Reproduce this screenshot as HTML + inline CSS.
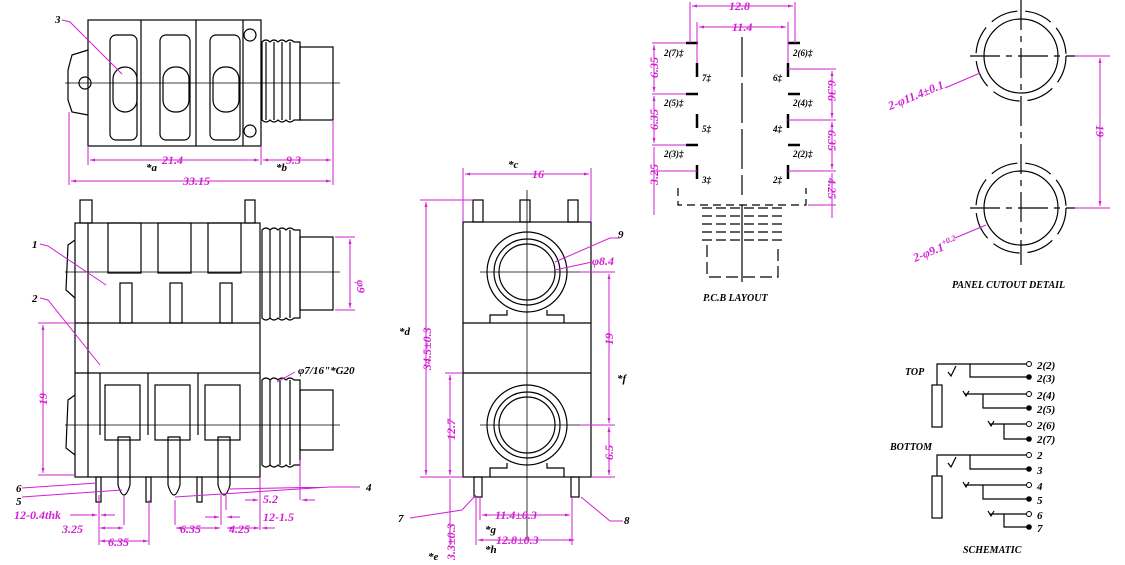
<!DOCTYPE html>
<html><head><meta charset="utf-8"><style>
html,body{margin:0;padding:0;background:#fff;}
svg{display:block;}
text{font-family:"Liberation Serif",serif;font-style:italic;font-weight:bold;}
.m{fill:#d21fd2;font-size:12px;}
.k{fill:#000;font-size:11px;}
</style></head><body>
<svg width="1125" height="565" viewBox="0 0 1125 565" xmlns="http://www.w3.org/2000/svg">
<defs>
<marker id="a" viewBox="0 0 10 10" refX="10" refY="5" markerWidth="6" markerHeight="5" orient="auto-start-reverse"><path d="M0,2L10,5L0,8z" fill="#d21fd2"/></marker>
</defs>
<g fill="none" stroke="#000" stroke-width="1.2">
<rect x="88" y="20" width="173" height="126"/>
<line x1="141" y1="20" x2="141" y2="146"/><line x1="196" y1="20" x2="196" y2="146"/><line x1="243" y1="20" x2="243" y2="146"/>
<path d="M88,50 L72,55 L68,70 L68,100 L72,112 L88,115"/>
<circle cx="85" cy="83" r="6"/>
<rect x="110" y="35" width="27" height="105" rx="6"/><rect x="160" y="35" width="30" height="105" rx="6"/><rect x="210" y="35" width="30" height="105" rx="6"/>
<rect x="113" y="67" width="24" height="45" rx="12"/><rect x="163" y="67" width="26" height="45" rx="12"/><rect x="213" y="67" width="26" height="45" rx="12"/>
<circle cx="250" cy="35" r="6"/><circle cx="250" cy="131" r="6"/>
<path d="M262,42 q4,-4 8,0 q4,-4 8,0 q4,-4 8,0 q4,-4 8,0 L300,42 L300,120 L294,120 q-4,4 -8,0 q-4,4 -8,0 q-4,4 -8,0 q-4,4 -8,0z"/>
<line x1="266" y1="42" x2="266" y2="120"/><line x1="274" y1="42" x2="274" y2="120"/><line x1="282" y1="42" x2="282" y2="120"/><line x1="290" y1="42" x2="290" y2="120"/>
<rect x="300" y="47" width="33" height="73"/>
<line x1="65" y1="83" x2="340" y2="83" stroke-width="0.8"/>
<rect x="75" y="223" width="185" height="254"/>
<line x1="88" y1="223" x2="88" y2="477"/>
<line x1="75" y1="323" x2="260" y2="323"/><line x1="75" y1="373" x2="260" y2="373"/>
<rect x="80" y="200" width="12" height="23"/><rect x="245" y="200" width="10" height="23"/>
<rect x="108" y="223" width="33" height="50"/><rect x="158" y="223" width="33" height="50"/><rect x="208" y="223" width="33" height="50"/>
<rect x="120" y="283" width="12" height="40"/><rect x="170" y="283" width="12" height="40"/><rect x="220" y="283" width="12" height="40"/>
<path d="M75,240 L68,245 L66,290 L75,298"/><path d="M75,395 L68,400 L66,448 L75,455"/>
<rect x="105" y="385" width="35" height="55"/><rect x="155" y="385" width="35" height="55"/><rect x="205" y="385" width="35" height="55"/>
<line x1="100" y1="373" x2="100" y2="435"/><line x1="148" y1="373" x2="148" y2="435"/><line x1="198" y1="373" x2="198" y2="435"/>
<path d="M118,437 L118,485 Q124,505 130,485 L130,437z"/><path d="M168,437 L168,485 Q174,505 180,485 L180,437z"/><path d="M218,437 L218,485 Q224,505 230,485 L230,437z"/>
<rect x="96" y="477" width="5" height="25"/><rect x="146" y="477" width="5" height="25"/><rect x="197" y="477" width="5" height="25"/>
<path d="M262,230 q4,-4 8,0 q4,-4 8,0 q4,-4 8,0 q4,-4 8,0 L300,230 L300,318 L294,318 q-4,4 -8,0 q-4,4 -8,0 q-4,4 -8,0 q-4,4 -8,0z"/>
<line x1="270" y1="230" x2="270" y2="318"/><line x1="280" y1="230" x2="280" y2="318"/><line x1="290" y1="230" x2="290" y2="318"/>
<rect x="300" y="237" width="33" height="73"/>
<path d="M262,380 q4,-4 8,0 q4,-4 8,0 q4,-4 8,0 q4,-4 8,0 L300,380 L300,465 L294,465 q-4,4 -8,0 q-4,4 -8,0 q-4,4 -8,0 q-4,4 -8,0z"/>
<line x1="270" y1="380" x2="270" y2="465"/><line x1="280" y1="380" x2="280" y2="465"/><line x1="290" y1="380" x2="290" y2="465"/>
<rect x="300" y="390" width="33" height="60"/>
<line x1="65" y1="272" x2="340" y2="272" stroke-width="0.8"/><line x1="65" y1="425" x2="340" y2="425" stroke-width="0.8"/>
<rect x="463" y="222" width="128" height="255"/>
<line x1="463" y1="323" x2="591" y2="323"/><line x1="463" y1="373" x2="591" y2="373"/>
<rect x="473" y="200" width="10" height="22"/><rect x="520" y="200" width="10" height="22"/><rect x="568" y="200" width="10" height="22"/>
<circle cx="527" cy="272" r="40"/><circle cx="527" cy="272" r="33"/><circle cx="527" cy="272" r="28"/>
<circle cx="527" cy="425" r="40"/><circle cx="527" cy="425" r="33"/><circle cx="527" cy="425" r="28"/>
<path d="M490,323 L490,315 L507,315 L507,310 M547,310 L547,315 L564,315 L564,323"/>
<path d="M490,477 L490,468 L507,468 L507,463 M547,463 L547,468 L564,468 L564,477"/>
<line x1="527" y1="190" x2="527" y2="540" stroke-width="0.8"/>
<line x1="480" y1="272" x2="580" y2="272" stroke-width="0.8"/><line x1="480" y1="425" x2="580" y2="425" stroke-width="0.8"/>
<rect x="474" y="477" width="8" height="20"/><rect x="571" y="477" width="8" height="20"/>
<line x1="742" y1="37" x2="742" y2="195" stroke-dasharray="40,6"/>
<g stroke-width="2.5">
<line x1="686" y1="43" x2="698" y2="43"/><line x1="788" y1="43" x2="800" y2="43"/>
<line x1="697" y1="63" x2="697" y2="77"/><line x1="788" y1="63" x2="788" y2="77"/>
<line x1="686" y1="94" x2="698" y2="94"/><line x1="788" y1="94" x2="800" y2="94"/>
<line x1="697" y1="114" x2="697" y2="128"/><line x1="788" y1="114" x2="788" y2="128"/>
<line x1="686" y1="145" x2="698" y2="145"/><line x1="788" y1="145" x2="800" y2="145"/>
<line x1="697" y1="165" x2="697" y2="179"/><line x1="788" y1="165" x2="788" y2="179"/>
</g>
<path d="M678,188 L678,205 L806,205 L806,188" stroke-dasharray="8,5"/>
<path d="M702,208 L782,208 M702,216 L782,216 M702,224 L782,224 M702,232 L782,232 M702,240 L782,240" stroke-dasharray="10,4"/>
<path d="M707,245 L707,277 L778,277 L778,245" stroke-dasharray="12,5"/>
<line x1="742" y1="205" x2="742" y2="282"/>
<circle cx="1021" cy="56" r="37"/><circle cx="1021" cy="56" r="45" stroke-dasharray="28,8"/>
<circle cx="1021" cy="208" r="37"/><circle cx="1021" cy="208" r="45" stroke-dasharray="28,8"/>
<line x1="1021" y1="0" x2="1021" y2="265" stroke-dasharray="30,6,6,6"/>
<line x1="970" y1="56" x2="1075" y2="56" stroke-dasharray="30,6,6,6"/><line x1="970" y1="208" x2="1075" y2="208" stroke-dasharray="30,6,6,6"/>
<rect x="932" y="385" width="10" height="42"/><rect x="932" y="476" width="10" height="42"/>
<path d="M937,385 L937,364 L1026,364 M970,364 L970,377 L1029,377 M948,372 l3,4 l5,-10"/>
<path d="M965,394 L1026,394 M983,394 L983,408 L1029,408 M963,391 l3,5 l3,-5"/>
<path d="M990,424 L1026,424 M1004,424 L1004,439 L1029,439 M988,421 l3,5 l3,-5"/>
<path d="M937,476 L937,455 L1026,455 M970,455 L970,469 L1029,469 M948,463 l3,4 l5,-10"/>
<path d="M965,485 L1026,485 M983,485 L983,499 L1029,499 M963,482 l3,5 l3,-5"/>
<path d="M990,514 L1026,514 M1004,514 L1004,527 L1029,527 M988,511 l3,5 l3,-5"/>
</g>
<g fill="#fff" stroke="#000"><circle cx="1029" cy="364" r="2.5"/><circle cx="1029" cy="394" r="2.5"/><circle cx="1029" cy="424" r="2.5"/><circle cx="1029" cy="455" r="2.5"/><circle cx="1029" cy="485" r="2.5"/><circle cx="1029" cy="514" r="2.5"/></g>
<g fill="#000"><circle cx="1029" cy="377" r="2.8"/><circle cx="1029" cy="408" r="2.8"/><circle cx="1029" cy="439" r="2.8"/><circle cx="1029" cy="469" r="2.8"/><circle cx="1029" cy="499" r="2.8"/><circle cx="1029" cy="527" r="2.8"/></g>
<g stroke="#d21fd2" stroke-width="1" fill="none">
<line x1="88" y1="146" x2="88" y2="165"/><line x1="261" y1="146" x2="261" y2="165"/><line x1="333" y1="120" x2="333" y2="185"/><line x1="69" y1="112" x2="69" y2="185"/>
<line x1="90" y1="160" x2="259" y2="160" marker-start="url(#a)" marker-end="url(#a)"/>
<line x1="263" y1="160" x2="331" y2="160" marker-start="url(#a)" marker-end="url(#a)"/>
<line x1="71" y1="181" x2="331" y2="181" marker-start="url(#a)" marker-end="url(#a)"/>
<path d="M62,20 L70,22 L122,74"/>
<line x1="335" y1="237" x2="355" y2="237"/><line x1="335" y1="310" x2="355" y2="310"/>
<line x1="350" y1="239" x2="350" y2="308" marker-start="url(#a)" marker-end="url(#a)"/>
<path d="M40,244 L48,246 L106,285"/><path d="M40,298 L48,300 L100,365"/>
<line x1="38" y1="323" x2="75" y2="323"/><line x1="38" y1="475" x2="75" y2="475"/>
<line x1="43" y1="325" x2="43" y2="473" marker-start="url(#a)" marker-end="url(#a)"/>
<path d="M295,372 L277,382"/>
<path d="M22,488 L97,483 M22,497 L122,490 M360,487 L330,487 L175,497 L176,497 M330,487 L228,489"/>
<line x1="99" y1="495" x2="99" y2="545"/><line x1="124" y1="495" x2="124" y2="525"/><line x1="149" y1="500" x2="149" y2="545"/>
<line x1="175" y1="500" x2="175" y2="525"/><line x1="221" y1="495" x2="221" y2="525"/><line x1="226" y1="495" x2="226" y2="510"/><line x1="260" y1="477" x2="260" y2="530"/><line x1="300" y1="460" x2="300" y2="500"/>
<line x1="70" y1="515" x2="97" y2="515" marker-end="url(#a)"/><line x1="115" y1="515" x2="101" y2="515" marker-end="url(#a)"/>
<line x1="100" y1="528" x2="123" y2="528" marker-start="url(#a)" marker-end="url(#a)"/>
<line x1="100" y1="541" x2="148" y2="541" marker-start="url(#a)" marker-end="url(#a)"/>
<line x1="176" y1="528" x2="220" y2="528" marker-start="url(#a)" marker-end="url(#a)"/>
<line x1="227" y1="528" x2="259" y2="528" marker-start="url(#a)" marker-end="url(#a)"/>
<line x1="245" y1="500" x2="258" y2="500" marker-end="url(#a)"/><line x1="315" y1="500" x2="302" y2="500" marker-end="url(#a)"/>
<line x1="205" y1="517" x2="219" y2="517" marker-end="url(#a)"/><line x1="240" y1="517" x2="227" y2="517" marker-end="url(#a)"/>
<line x1="262" y1="528" x2="275" y2="528" marker-start="url(#a)"/>
<line x1="463" y1="168" x2="463" y2="222"/><line x1="591" y1="168" x2="591" y2="222"/>
<line x1="465" y1="174" x2="589" y2="174" marker-start="url(#a)" marker-end="url(#a)"/>
<line x1="420" y1="200" x2="473" y2="200"/><line x1="420" y1="477" x2="463" y2="477"/>
<line x1="426" y1="202" x2="426" y2="475" marker-start="url(#a)" marker-end="url(#a)"/>
<line x1="445" y1="373" x2="463" y2="373"/>
<line x1="450" y1="375" x2="450" y2="475" marker-start="url(#a)" marker-end="url(#a)"/>
<line x1="450" y1="479" x2="450" y2="545"/>
<line x1="580" y1="272" x2="615" y2="272"/><line x1="580" y1="425" x2="615" y2="425"/><line x1="591" y1="477" x2="615" y2="477"/>
<line x1="609" y1="274" x2="609" y2="423" marker-start="url(#a)" marker-end="url(#a)"/>
<line x1="609" y1="427" x2="609" y2="475" marker-start="url(#a)" marker-end="url(#a)"/>
<path d="M555,262 L610,238 L620,238"/><path d="M555,270 L592,262"/>
<path d="M410,518 L462,510 L476,495"/><path d="M623,521 L610,521 L581,497"/>
<line x1="480" y1="497" x2="480" y2="520"/><line x1="572" y1="497" x2="572" y2="545"/><line x1="476" y1="497" x2="476" y2="545"/>
<line x1="482" y1="515" x2="570" y2="515" marker-start="url(#a)" marker-end="url(#a)"/>
<line x1="478" y1="540" x2="574" y2="540" marker-start="url(#a)" marker-end="url(#a)"/>
<line x1="690" y1="2" x2="690" y2="43"/><line x1="795" y1="2" x2="795" y2="43"/>
<line x1="697" y1="22" x2="697" y2="63"/><line x1="788" y1="22" x2="788" y2="63"/>
<line x1="692" y1="6" x2="793" y2="6" marker-start="url(#a)" marker-end="url(#a)"/>
<line x1="699" y1="27" x2="786" y2="27" marker-start="url(#a)" marker-end="url(#a)"/>
<line x1="652" y1="43" x2="686" y2="43"/><line x1="652" y1="94" x2="686" y2="94"/><line x1="652" y1="145" x2="686" y2="145"/><line x1="652" y1="171" x2="697" y2="171"/>
<line x1="654" y1="45" x2="654" y2="92" marker-start="url(#a)" marker-end="url(#a)"/>
<line x1="654" y1="96" x2="654" y2="143" marker-start="url(#a)" marker-end="url(#a)"/>
<line x1="654" y1="147" x2="654" y2="215"/>
<line x1="788" y1="69" x2="836" y2="69"/><line x1="788" y1="120" x2="836" y2="120"/><line x1="788" y1="171" x2="836" y2="171"/><line x1="808" y1="205" x2="836" y2="205"/>
<line x1="832" y1="71" x2="832" y2="118" marker-start="url(#a)" marker-end="url(#a)"/>
<line x1="832" y1="122" x2="832" y2="169" marker-start="url(#a)" marker-end="url(#a)"/>
<line x1="832" y1="173" x2="832" y2="218"/>
<line x1="1075" y1="56" x2="1110" y2="56"/><line x1="1075" y1="208" x2="1110" y2="208"/>
<line x1="1100" y1="58" x2="1100" y2="206" marker-start="url(#a)" marker-end="url(#a)"/>
<line x1="945" y1="88" x2="980" y2="73"/><line x1="955" y1="238" x2="986" y2="225"/>
</g>
<g class="k">
<text x="55" y="23">3</text><text x="32" y="248">1</text><text x="32" y="302">2</text>
<text x="146" y="171">*a</text><text x="276" y="171">*b</text>
<text x="298" y="374">φ7/16"*G20</text>
<text x="16" y="492">6</text><text x="16" y="505">5</text><text x="366" y="491">4</text>
<text x="508" y="168">*c</text><text x="618" y="238">9</text><text x="399" y="335">*d</text><text x="617" y="382">*f</text>
<text x="398" y="522">7</text><text x="624" y="524">8</text><text x="485" y="533">*g</text><text x="485" y="553">*h</text><text x="428" y="560">*e</text>
<text x="664" y="56" font-size="9">2(7)‡</text><text x="793" y="56" font-size="9">2(6)‡</text>
<text x="702" y="81" font-size="9">7‡</text><text x="773" y="81" font-size="9">6‡</text>
<text x="664" y="106" font-size="9">2(5)‡</text><text x="793" y="106" font-size="9">2(4)‡</text>
<text x="702" y="132" font-size="9">5‡</text><text x="773" y="132" font-size="9">4‡</text>
<text x="664" y="157" font-size="9">2(3)‡</text><text x="793" y="157" font-size="9">2(2)‡</text>
<text x="702" y="183" font-size="9">3‡</text><text x="773" y="183" font-size="9">2‡</text>
<text x="703" y="301" font-size="10">P.C.B LAYOUT</text>
<text x="952" y="288" font-size="10">PANEL CUTOUT DETAIL</text>
<text x="905" y="375" font-size="10">TOP</text><text x="890" y="450" font-size="10">BOTTOM</text>
<text x="963" y="553" font-size="10">SCHEMATIC</text>
<text x="1037" y="369">2(2)</text><text x="1037" y="382">2(3)</text><text x="1037" y="399">2(4)</text><text x="1037" y="413">2(5)</text><text x="1037" y="429">2(6)</text><text x="1037" y="443">2(7)</text>
<text x="1037" y="459">2</text><text x="1037" y="474">3</text><text x="1037" y="490">4</text><text x="1037" y="504">5</text><text x="1037" y="519">6</text><text x="1037" y="532">7</text>
</g>
<g class="m">
<text x="162" y="164">21.4</text><text x="286" y="164">9.3</text><text x="183" y="185">33.15</text>
<text x="14" y="519">12-0.4thk</text><text x="62" y="533">3.25</text><text x="108" y="546">6.35</text>
<text x="180" y="533">6.35</text><text x="229" y="533">4.25</text><text x="263" y="521">12-1.5</text><text x="263" y="503">5.2</text>
<text x="532" y="178">16</text><text x="592" y="265">φ8.4</text>
<text x="495" y="519">11.4±0.3</text><text x="496" y="544">12.8±0.3</text>
<text x="729" y="10">12.8</text><text x="732" y="31">11.4</text>
<text transform="translate(47,405) rotate(-90)">19</text>
<text transform="translate(357,280) rotate(90)">φ9</text>
<text transform="translate(431,370) rotate(-90)">34.5±0.3</text>
<text transform="translate(455,440) rotate(-90)">12.7</text>
<text transform="translate(455,560) rotate(-90)">3.3±0.3</text>
<text transform="translate(613,345) rotate(-90)">19</text>
<text transform="translate(613,460) rotate(-90)">6.5</text>
<text transform="translate(658,78) rotate(-90)">6.35</text>
<text transform="translate(658,130) rotate(-90)">6.35</text>
<text transform="translate(658,185) rotate(-90)">3.25</text>
<text transform="translate(828,80) rotate(90)">6.36</text>
<text transform="translate(828,130) rotate(90)">6.35</text>
<text transform="translate(828,178) rotate(90)">4.25</text>
<text transform="translate(1096,125) rotate(90)">19</text>
<text transform="translate(890,110) rotate(-22)">2-φ11.4±0.1</text>
<text transform="translate(915,262) rotate(-22)">2-φ9.1<tspan font-size="8" dy="-5">+0.2</tspan></text>
</g>
</svg>
</body></html>
